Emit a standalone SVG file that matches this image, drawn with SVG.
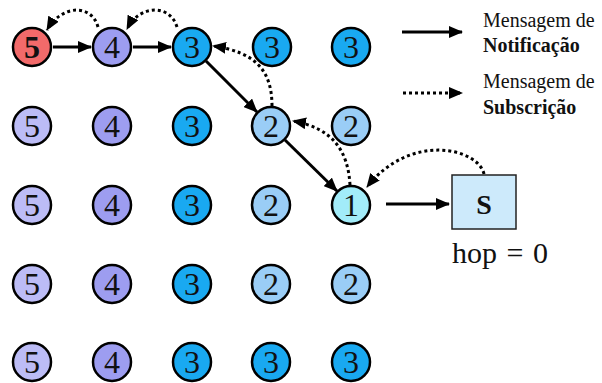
<svg xmlns="http://www.w3.org/2000/svg" width="602" height="383" viewBox="0 0 602 383">
  <defs>
    <marker id="head" markerUnits="userSpaceOnUse" markerWidth="14" markerHeight="12" refX="13" refY="6" orient="auto">
      <path d="M0,0 L14,6 L0,12 z" fill="#000"/>
    </marker>
    <style>
      .node circle { stroke: #000; stroke-width: 2.5; }
      .h5 { fill: #bcbcf6; }
      .h4 { fill: #9d9df0; }
      .h3 { fill: #19a9f1; }
      .h2 { fill: #9acdf6; }
      .h1 { fill: #a2ecf9; }
      .src { fill: #f26a6a; }
      .notify { fill: none; stroke: #000; stroke-width: 3; marker-end: url(#head); }
      .subscribe { fill: none; stroke: #000; stroke-width: 3; stroke-dasharray: 3 3; marker-end: url(#head); }
    </style>
  </defs>

  <!-- grid of nodes: hop count to the sink in each circle -->
  <g text-anchor="middle" fill="#111" font-family="Liberation Serif, serif" font-size="32">
  <!-- row 1 -->
  <g id="n-1-1" class="node"><circle class="src" cx="32" cy="47" r="19"/><text x="32" y="58" font-weight="bold">5</text></g>
  <g id="n-1-2" class="node"><circle class="h4" cx="112" cy="47" r="19"/><text x="112" y="58">4</text></g>
  <g id="n-1-3" class="node"><circle class="h3" cx="192" cy="47" r="19"/><text x="192" y="58">3</text></g>
  <g id="n-1-4" class="node"><circle class="h3" cx="272" cy="47" r="19"/><text x="272" y="58">3</text></g>
  <g id="n-1-5" class="node"><circle class="h3" cx="351" cy="47" r="19"/><text x="351" y="58">3</text></g>

  <!-- row 2 -->
  <g id="n-2-1" class="node"><circle class="h5" cx="32" cy="126" r="19"/><text x="32" y="137">5</text></g>
  <g id="n-2-2" class="node"><circle class="h4" cx="112" cy="126" r="19"/><text x="112" y="137">4</text></g>
  <g id="n-2-3" class="node"><circle class="h3" cx="192" cy="126" r="19"/><text x="192" y="137">3</text></g>
  <g id="n-2-4" class="node"><circle class="h2" cx="271" cy="126" r="19"/><text x="271" y="137">2</text></g>
  <g id="n-2-5" class="node"><circle class="h2" cx="351" cy="126" r="19"/><text x="351" y="137">2</text></g>

  <!-- row 3 -->
  <g id="n-3-1" class="node"><circle class="h5" cx="32" cy="205" r="19"/><text x="32" y="216">5</text></g>
  <g id="n-3-2" class="node"><circle class="h4" cx="112" cy="205" r="19"/><text x="112" y="216">4</text></g>
  <g id="n-3-3" class="node"><circle class="h3" cx="192" cy="205" r="19"/><text x="192" y="216">3</text></g>
  <g id="n-3-4" class="node"><circle class="h2" cx="271" cy="205" r="19"/><text x="271" y="216">2</text></g>
  <g id="n-3-5" class="node"><circle class="h1" cx="351" cy="205" r="19"/><text x="351" y="216">1</text></g>

  <!-- row 4 -->
  <g id="n-4-1" class="node"><circle class="h5" cx="32" cy="284" r="19"/><text x="32" y="295">5</text></g>
  <g id="n-4-2" class="node"><circle class="h4" cx="112" cy="284" r="19"/><text x="112" y="295">4</text></g>
  <g id="n-4-3" class="node"><circle class="h3" cx="192" cy="284" r="19"/><text x="192" y="295">3</text></g>
  <g id="n-4-4" class="node"><circle class="h2" cx="271" cy="284" r="19"/><text x="271" y="295">2</text></g>
  <g id="n-4-5" class="node"><circle class="h2" cx="351" cy="284" r="19"/><text x="351" y="295">2</text></g>

  <!-- row 5 -->
  <g id="n-5-1" class="node"><circle class="h5" cx="32" cy="362" r="19"/><text x="32" y="373">5</text></g>
  <g id="n-5-2" class="node"><circle class="h4" cx="112" cy="362" r="19"/><text x="112" y="373">4</text></g>
  <g id="n-5-3" class="node"><circle class="h3" cx="192" cy="362" r="19"/><text x="192" y="373">3</text></g>
  <g id="n-5-4" class="node"><circle class="h3" cx="271" cy="362" r="19"/><text x="271" y="373">3</text></g>
  <g id="n-5-5" class="node"><circle class="h3" cx="351" cy="362" r="19"/><text x="351" y="373">3</text></g>
  </g>

  <!-- sink -->
  <g id="sink" fill="#111" font-family="Liberation Serif, serif">
    <rect x="452" y="175" width="64" height="54" fill="#cdeafb" stroke="#222" stroke-width="1.5"/>
    <text x="484" y="214" font-size="28" font-weight="bold" text-anchor="middle">S</text>
    <text x="452" y="263" font-size="30" word-spacing="2">hop = 0</text>
  </g>

  <!-- connectors -->
  <g id="connectors">
    <!-- notification path -->
    <line class="notify" x1="53" y1="47" x2="91" y2="47"/>
    <line class="notify" x1="133" y1="47" x2="171" y2="47"/>
    <line class="notify" x1="206" y1="61" x2="257" y2="112"/>
    <line class="notify" x1="285" y1="140" x2="337" y2="191"/>
    <line class="notify" x1="386" y1="204" x2="449" y2="204"/>
    <!-- subscription path -->
    <path class="subscribe" d="M484,174 C478,148 410,132 367,187"/>
    <path class="subscribe" d="M350,185 C348,150 332,128 293,121"/>
    <path class="subscribe" d="M272,106 C272,70 255,52 213,46"/>
    <path class="subscribe" d="M177,27 C170,4 140,4 127,29"/>
    <path class="subscribe" d="M98,27 C92,4 62,4 47,30"/>
  </g>

  <!-- legend -->
  <g id="legend" fill="#111" font-family="Liberation Serif, serif" font-size="20">
    <line class="notify" x1="402" y1="32" x2="462" y2="32"/>
    <text x="483" y="27">Mensagem de</text>
    <text x="483" y="52" font-weight="bold">Notificação</text>
    <line class="subscribe" x1="403" y1="93" x2="462" y2="93"/>
    <text x="483" y="88">Mensagem de</text>
    <text x="483" y="114" font-weight="bold">Subscrição</text>
  </g>
</svg>
